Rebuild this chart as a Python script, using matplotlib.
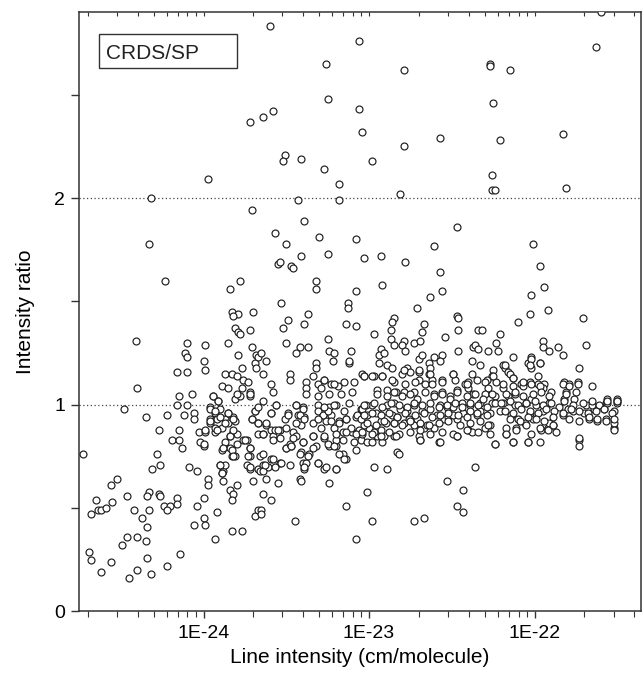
import numpy as np
import matplotlib.pyplot as plt
from matplotlib.patches import Rectangle
from matplotlib.ticker import FixedLocator, FixedFormatter, LogLocator, NullFormatter

plt.rcParams['font.family'] = ['Liberation Sans', 'DejaVu Sans']

# each point: (log10 of line intensity in cm/molecule, CRDS/SP intensity ratio)
high_outliers = [
    (-23.60, 2.83), (-23.06, 2.76), (-23.26, 2.65), (-23.25, 2.48), (-23.06, 2.43), (-23.72, 2.37),
    (-23.64, 2.39), (-23.58, 2.42), (-23.51, 2.21), (-23.52, 2.18), (-23.41, 2.19), (-23.27, 2.14),
    (-23.18, 2.07), (-23.97, 2.09), (-24.32, 2.00), (-23.43, 1.99), (-23.18, 1.99),
    (-21.60, 2.90), (-21.63, 2.73), (-22.27, 2.65), (-22.27, 2.64), (-22.15, 2.62), (-22.79, 2.62),
    (-22.25, 2.46), (-23.04, 2.32), (-22.79, 2.25), (-22.57, 2.29), (-22.21, 2.28), (-21.83, 2.31),
    (-22.98, 2.18), (-22.26, 2.11), (-22.26, 2.04), (-22.24, 2.04), (-21.81, 2.05), (-22.81, 2.02),
    (-23.71, 1.94), (-24.33, 1.78), (-24.23, 1.60), (-23.78, 1.60), (-23.84, 1.56), (-23.70, 1.45),
    (-23.83, 1.45), (-23.79, 1.44), (-23.82, 1.43),
    (-23.39, 1.89), (-23.57, 1.83), (-23.50, 1.78), (-23.30, 1.81), (-23.08, 1.80), (-23.25, 1.73),
    (-23.41, 1.72), (-23.55, 1.68), (-23.54, 1.69), (-23.47, 1.67), (-23.46, 1.66), (-23.03, 1.71),
    (-22.93, 1.72), (-22.78, 1.69), (-22.61, 1.77), (-22.57, 1.64), (-22.56, 1.55), (-23.32, 1.60),
    (-23.32, 1.56), (-23.08, 1.55), (-22.92, 1.58), (-22.63, 1.52), (-22.71, 1.47), (-23.53, 1.49),
    (-23.13, 1.49), (-23.13, 1.47), (-23.37, 1.44), (-23.49, 1.41),
    (-22.47, 1.86), (-22.01, 1.78), (-21.97, 1.67), (-21.94, 1.57), (-22.02, 1.53), (-21.92, 1.46),
    (-22.03, 1.44), (-22.10, 1.40), (-21.71, 1.42), (-22.47, 1.43), (-22.46, 1.42),
]

weak_upper = [
    (-23.81, 1.37), (-23.79, 1.35), (-23.78, 1.34), (-23.72, 1.36), (-24.41, 1.31), (-24.10, 1.30),
    (-23.99, 1.29), (-23.85, 1.30), (-23.71, 1.28), (-24.11, 1.25), (-24.10, 1.23), (-23.79, 1.24),
    (-23.68, 1.24), (-24.00, 1.21), (-23.99, 1.17), (-23.77, 1.18), (-23.69, 1.20), (-24.16, 1.16),
    (-24.10, 1.16), (-23.87, 1.15), (-23.83, 1.15), (-23.80, 1.14), (-23.76, 1.12), (-23.73, 1.11),
    (-23.89, 1.09), (-23.85, 1.08), (-23.77, 1.08), (-24.40, 1.08), (-24.15, 1.04), (-24.07, 1.05),
    (-23.94, 1.04), (-23.81, 1.03), (-23.72, 1.06), (-23.72, 1.04), (-23.78, 1.04), (-23.67, 1.23),
    (-23.68, 1.18),
]

medium_upper = [
    (-23.52, 1.37), (-23.39, 1.39), (-23.14, 1.39), (-23.08, 1.38), (-22.85, 1.42), (-22.86, 1.40),
    (-22.67, 1.39), (-22.87, 1.36), (-22.68, 1.35), (-22.97, 1.34), (-22.87, 1.32), (-22.79, 1.31),
    (-22.54, 1.33), (-23.50, 1.30), (-23.25, 1.32), (-22.85, 1.29), (-22.80, 1.29), (-22.73, 1.30),
    (-22.69, 1.31), (-23.42, 1.28), (-23.44, 1.25), (-23.37, 1.28), (-23.24, 1.26), (-23.21, 1.25),
    (-23.11, 1.26), (-22.93, 1.27), (-22.94, 1.24), (-22.91, 1.25), (-22.78, 1.26), (-23.65, 1.25),
    (-23.62, 1.21), (-23.22, 1.21), (-23.12, 1.20), (-23.12, 1.21), (-23.32, 1.20), (-23.32, 1.18),
    (-22.94, 1.20), (-22.89, 1.19), (-22.86, 1.18), (-22.70, 1.22), (-22.68, 1.24), (-22.61, 1.23),
    (-22.56, 1.24), (-22.57, 1.21), (-22.64, 1.20), (-22.63, 1.18), (-23.64, 1.15), (-23.48, 1.15),
    (-23.48, 1.12), (-23.34, 1.14), (-23.04, 1.15), (-23.03, 1.14), (-22.97, 1.14), (-22.92, 1.14),
    (-22.80, 1.15), (-22.77, 1.18), (-22.75, 1.16), (-22.70, 1.16), (-22.64, 1.15), (-22.70, 1.12),
    (-22.62, 1.12), (-22.56, 1.12), (-22.85, 1.11), (-23.38, 1.11), (-23.27, 1.12), (-23.31, 1.10),
    (-23.23, 1.10), (-23.15, 1.11), (-23.09, 1.11), (-23.59, 1.10), (-23.58, 1.06), (-23.38, 1.08),
    (-23.29, 1.08), (-23.19, 1.09), (-23.10, 1.06), (-23.38, 1.05), (-23.31, 1.04), (-23.24, 1.05),
    (-23.17, 1.05), (-22.95, 1.07), (-22.89, 1.07), (-22.84, 1.06), (-22.78, 1.10), (-22.72, 1.11),
    (-22.66, 1.10), (-22.62, 1.10), (-22.56, 1.11), (-22.61, 1.05), (-22.56, 1.06), (-22.79, 1.06),
    (-22.73, 1.06),
]

strong_upper = [
    (-22.46, 1.36), (-22.34, 1.36), (-22.32, 1.36), (-22.21, 1.34), (-22.23, 1.30), (-21.95, 1.31),
    (-21.95, 1.28), (-21.91, 1.26), (-21.86, 1.28), (-21.83, 1.24), (-21.69, 1.29), (-22.46, 1.26),
    (-22.37, 1.28), (-22.36, 1.29), (-22.34, 1.27), (-22.28, 1.26), (-22.22, 1.26), (-22.13, 1.23),
    (-22.02, 1.23), (-21.97, 1.20), (-22.04, 1.20), (-22.02, 1.18), (-22.38, 1.21), (-22.33, 1.19),
    (-22.19, 1.19), (-22.18, 1.18), (-22.16, 1.16), (-22.25, 1.17), (-22.38, 1.15), (-22.49, 1.15),
    (-22.15, 1.15), (-22.13, 1.13), (-21.98, 1.14), (-22.26, 1.14), (-22.29, 1.12), (-21.73, 1.18),
    (-21.82, 1.11), (-21.79, 1.10), (-21.74, 1.11), (-21.65, 1.09), (-22.48, 1.12), (-22.42, 1.10),
    (-22.40, 1.11), (-22.23, 1.11), (-22.30, 1.11), (-22.08, 1.10), (-22.03, 1.11), (-21.98, 1.10),
    (-21.94, 1.10), (-22.07, 1.09), (-22.40, 1.08), (-22.47, 1.07), (-22.28, 1.08), (-22.19, 1.08),
    (-21.95, 1.08), (-21.81, 1.06), (-21.90, 1.06), (-22.37, 1.05), (-22.30, 1.05), (-22.12, 1.05),
    (-21.56, 1.03), (-21.50, 1.03), (-22.51, 1.04), (-22.16, 1.04), (-22.24, 1.04), (-22.02, 1.03),
    (-21.82, 1.03), (-21.76, 1.03),
]

weak_lower = [
    (-24.48, 0.98), (-24.35, 0.94), (-24.22, 0.95), (-24.16, 1.00), (-24.10, 1.00), (-24.12, 0.95),
    (-24.06, 0.96), (-24.06, 0.93), (-24.27, 0.88), (-24.15, 0.88), (-24.19, 0.83), (-24.15, 0.83),
    (-24.13, 0.79), (-24.28, 0.76), (-24.26, 0.71), (-24.31, 0.69), (-24.09, 0.70), (-24.04, 0.68),
    (-24.73, 0.76), (-24.52, 0.64), (-24.56, 0.61), (-24.65, 0.54), (-24.68, 0.47), (-24.64, 0.49),
    (-24.62, 0.49), (-24.59, 0.50), (-24.55, 0.53), (-24.46, 0.56), (-24.33, 0.58), (-24.34, 0.56),
    (-24.27, 0.57), (-24.26, 0.56), (-24.16, 0.55), (-24.16, 0.52), (-24.24, 0.51), (-24.20, 0.51),
    (-24.22, 0.49), (-24.42, 0.49), (-24.33, 0.49), (-24.37, 0.45), (-24.34, 0.41), (-24.35, 0.34),
    (-24.46, 0.36), (-24.40, 0.36), (-24.49, 0.32), (-24.69, 0.29), (-24.68, 0.25), (-24.62, 0.19),
    (-24.56, 0.24), (-24.45, 0.16), (-24.40, 0.20), (-24.34, 0.26), (-24.32, 0.18), (-24.22, 0.22),
    (-24.14, 0.28), (-24.00, 0.55), (-24.04, 0.51), (-23.97, 0.64), (-23.97, 0.61), (-24.00, 0.45),
    (-24.06, 0.42), (-23.99, 0.42), (-23.92, 0.48), (-23.93, 0.35), (-23.83, 0.39), (-23.77, 0.39),
    (-23.88, 0.63), (-23.90, 0.71), (-23.88, 0.68), (-23.87, 0.71), (-23.89, 0.67), (-23.80, 0.61),
    (-23.84, 0.59), (-23.82, 0.57), (-23.83, 0.54), (-23.70, 0.63), (-23.69, 0.46), (-23.67, 0.49),
    (-23.72, 0.69), (-23.74, 0.71), (-23.72, 0.75), (-23.67, 0.69),
    (-24.03, 0.87), (-24.02, 0.82), (-24.00, 0.80), (-23.99, 0.87), (-23.96, 0.99), (-23.91, 1.02),
    (-23.90, 0.98), (-23.93, 0.96), (-23.96, 0.93), (-23.96, 0.91), (-23.92, 0.93), (-23.93, 0.87),
    (-23.93, 0.89), (-23.87, 0.93), (-23.85, 0.96), (-23.82, 0.94), (-23.81, 0.92), (-23.85, 0.91),
    (-23.89, 0.89), (-23.82, 0.87), (-23.84, 0.85), (-23.80, 0.86), (-23.80, 0.81), (-23.87, 0.82),
    (-23.89, 0.78), (-23.84, 0.79), (-23.83, 0.75), (-23.81, 0.75), (-23.76, 0.83), (-23.74, 0.83),
    (-23.72, 0.79), (-23.69, 0.97), (-23.71, 0.93), (-23.67, 0.91), (-23.67, 0.86),
    (-23.94, 1.04), (-23.91, 1.02), (-23.96, 0.98), (-23.93, 0.97), (-23.85, 0.96), (-23.90, 0.94),
    (-23.82, 0.93), (-23.96, 0.92), (-23.87, 0.91), (-23.92, 0.88), (-23.84, 0.85), (-23.82, 0.88),
    (-23.99, 0.88), (-24.00, 0.81), (-23.88, 0.79), (-23.83, 0.78), (-23.82, 0.75), (-23.90, 0.71),
    (-23.89, 0.67), (-23.75, 0.83), (-23.72, 0.79), (-23.73, 0.75), (-23.72, 0.70), (-23.71, 0.93),
    (-23.67, 0.91), (-23.64, 0.86), (-23.62, 0.90), (-23.59, 0.96), (-23.56, 1.00), (-23.54, 0.88),
    (-23.51, 0.93), (-23.59, 0.88), (-23.58, 0.85), (-23.50, 0.79), (-23.66, 0.75), (-23.59, 0.74),
    (-23.54, 0.72), (-23.64, 0.71), (-23.61, 0.70), (-23.66, 0.68), (-23.80, 1.05), (-23.72, 1.05),
    (-23.69, 0.97), (-23.67, 0.99), (-23.64, 1.02),
]

medium_lower = [
    (-22.53, 0.63), (-23.01, 0.58), (-23.14, 0.51), (-22.98, 0.44), (-23.08, 0.35), (-22.73, 0.44),
    (-22.67, 0.45), (-23.45, 0.44), (-23.59, 0.54), (-23.64, 0.57), (-23.65, 0.49), (-23.65, 0.47),
    (-23.55, 0.62), (-23.42, 0.64), (-23.41, 0.63), (-23.24, 0.62), (-23.20, 0.69), (-23.27, 0.69),
    (-23.39, 0.69), (-23.31, 0.72), (-22.97, 0.70), (-22.89, 0.69), (-23.14, 0.74), (-23.16, 0.76),
    (-23.08, 0.78), (-22.83, 0.77), (-22.82, 0.76), (-22.58, 0.82), (-22.69, 0.83), (-22.70, 0.85),
    (-22.85, 0.85), (-23.48, 0.71), (-23.53, 0.72), (-23.57, 0.70), (-23.62, 0.64), (-23.64, 0.68),
    (-23.63, 0.71), (-23.58, 0.74), (-23.64, 0.76), (-23.40, 0.72), (-23.38, 0.72), (-23.41, 0.77),
    (-23.36, 0.76), (-23.32, 0.80), (-23.34, 0.79), (-23.47, 0.80), (-23.50, 0.79), (-23.48, 0.81),
    (-23.40, 0.82), (-23.58, 0.83), (-23.54, 0.84), (-23.64, 0.86), (-23.57, 0.88), (-23.50, 0.89),
    (-23.46, 0.87), (-23.44, 0.85), (-23.34, 0.85), (-23.27, 0.84), (-23.24, 0.80), (-23.20, 0.80),
    (-23.20, 0.83), (-23.16, 0.83), (-23.09, 0.82), (-23.05, 0.83), (-23.01, 0.82), (-22.98, 0.82),
    (-22.92, 0.82), (-22.91, 0.85), (-22.95, 0.85), (-23.04, 0.86), (-23.10, 0.87), (-23.16, 0.87),
    (-23.21, 0.89), (-23.29, 0.89), (-23.34, 0.91), (-23.41, 0.90), (-23.44, 0.91), (-23.62, 0.91),
    (-23.55, 0.88), (-23.59, 0.96), (-23.49, 0.96), (-23.43, 0.95), (-23.39, 0.94), (-23.56, 1.00),
    (-23.44, 1.00), (-23.40, 0.99), (-23.31, 1.00), (-23.24, 0.99), (-23.28, 0.95), (-23.23, 0.95),
    (-23.26, 0.92), (-23.18, 0.92), (-23.14, 0.93), (-23.08, 0.94), (-23.15, 0.97), (-23.20, 1.00),
    (-23.05, 0.98), (-23.01, 0.95), (-22.96, 0.96), (-23.00, 0.89), (-23.03, 0.90), (-23.06, 0.88),
    (-22.97, 0.87), (-22.93, 0.92), (-22.90, 0.91), (-22.86, 0.95), (-22.85, 0.91), (-22.83, 0.94),
    (-22.79, 0.91), (-22.76, 0.93), (-22.73, 0.90), (-22.71, 0.93), (-22.67, 0.89), (-22.65, 0.90),
    (-22.61, 0.89), (-22.59, 0.95), (-22.55, 0.93), (-22.52, 0.94), (-22.53, 0.99), (-22.57, 1.00),
    (-22.63, 0.98), (-22.68, 0.97), (-22.73, 1.00), (-22.77, 0.97), (-22.81, 0.98), (-22.85, 1.01),
    (-22.89, 1.00), (-22.91, 0.97), (-22.98, 1.00), (-23.02, 1.00), (-23.12, 1.01),
    (-23.44, 1.00), (-23.40, 0.98), (-23.42, 0.95), (-23.39, 0.93), (-23.49, 0.95), (-23.31, 0.97),
    (-23.28, 0.95), (-23.25, 0.97), (-23.21, 1.00), (-23.27, 0.99), (-23.31, 0.93), (-23.23, 0.92),
    (-23.18, 0.91), (-23.14, 0.93), (-23.11, 0.89), (-23.07, 0.95), (-23.04, 0.98), (-23.05, 0.93),
    (-23.08, 0.86), (-23.14, 0.87), (-23.20, 0.86), (-23.27, 0.85), (-23.34, 0.85), (-23.40, 0.82),
    (-23.46, 0.84), (-23.47, 0.80), (-23.42, 0.76), (-23.37, 0.75), (-23.31, 0.72), (-23.20, 0.69),
    (-23.39, 0.70), (-23.26, 0.70), (-23.25, 0.81), (-23.18, 0.76), (-23.15, 0.74), (-23.21, 0.80),
    (-23.27, 1.12), (-23.21, 1.10),
]

strong_lower = [
    (-22.47, 0.85), (-22.40, 0.88), (-22.38, 0.87), (-22.36, 0.70), (-22.43, 0.59), (-22.47, 0.51),
    (-22.43, 0.48), (-22.24, 0.81), (-22.17, 0.86), (-22.13, 0.82), (-22.04, 0.82), (-21.97, 0.82),
    (-22.02, 0.86), (-21.96, 0.88), (-21.92, 0.89), (-21.87, 0.87), (-21.89, 0.90), (-21.73, 0.83),
    (-21.73, 0.80), (-21.52, 0.89), (-21.52, 0.91), (-21.57, 0.93), (-21.62, 0.92), (-21.67, 0.93),
    (-21.52, 0.97), (-21.50, 1.01), (-21.58, 0.98), (-21.64, 0.98), (-21.70, 0.96), (-21.69, 1.00),
    (-22.30, 0.89), (-22.27, 0.90), (-22.11, 0.89), (-22.06, 0.91), (-22.01, 0.93), (-21.91, 0.91),
    (-22.47, 0.93), (-22.35, 0.95), (-22.27, 0.96), (-22.21, 0.97), (-22.14, 0.95), (-22.10, 0.93),
    (-22.03, 0.96), (-21.95, 0.97), (-21.83, 0.95), (-21.77, 0.97), (-21.80, 0.98), (-21.85, 0.99),
    (-21.91, 1.01), (-21.99, 1.00), (-22.05, 1.01), (-22.12, 1.00), (-22.19, 1.01), (-22.26, 1.01),
    (-22.33, 1.01), (-22.39, 1.00), (-22.44, 1.01), (-22.49, 0.99), (-22.43, 0.96), (-22.49, 0.95),
    (-22.33, 0.97), (-22.39, 0.97), (-21.65, 1.00), (-21.57, 1.01),
]

# densest part of the cloud, 1e-23 to 4e-22
core_band = [
    (-22.95, 1.05), (-22.89, 1.04), (-22.85, 1.06), (-22.80, 1.04), (-22.75, 1.05), (-22.71, 1.03),
    (-22.66, 1.06), (-22.61, 1.04), (-22.56, 1.05), (-22.51, 1.03), (-22.47, 1.06), (-22.41, 1.04),
    (-22.36, 1.05), (-22.31, 1.03), (-22.26, 1.05),
    (-23.03, 1.00), (-22.97, 1.01), (-22.92, 0.99), (-22.87, 1.01), (-22.82, 1.00), (-22.77, 0.99),
    (-22.73, 1.01), (-22.68, 1.00), (-22.63, 1.01), (-22.58, 0.99), (-22.53, 1.00), (-22.48, 1.01),
    (-22.44, 0.99), (-22.39, 1.01), (-22.34, 1.00), (-22.29, 0.99), (-22.24, 1.01),
    (-23.03, 0.95), (-22.98, 0.96), (-22.93, 0.95), (-22.88, 0.96), (-22.83, 0.94), (-22.78, 0.96),
    (-22.72, 0.95), (-22.67, 0.96), (-22.62, 0.94), (-22.57, 0.95), (-22.52, 0.96), (-22.46, 0.95),
    (-22.41, 0.94), (-22.35, 0.96), (-22.29, 0.95),
    (-23.01, 0.91), (-22.96, 0.90), (-22.91, 0.92), (-22.85, 0.91), (-22.80, 0.90), (-22.75, 0.92),
    (-22.69, 0.91), (-22.64, 0.90), (-22.58, 0.91), (-22.52, 0.92), (-22.45, 0.90), (-22.39, 0.91),
    (-22.33, 0.92), (-22.28, 0.90),
    (-23.04, 0.87), (-22.98, 0.86), (-22.93, 0.88), (-22.88, 0.87), (-22.82, 0.86), (-22.75, 0.87),
    (-22.69, 0.88), (-22.63, 0.86), (-22.56, 0.87), (-22.49, 0.86), (-22.41, 0.88), (-22.34, 0.87),
    (-22.27, 0.86),
    (-23.03, 1.14), (-22.98, 1.14), (-22.92, 1.14), (-22.86, 1.12), (-22.79, 1.17), (-22.70, 1.17),
    (-22.63, 1.15), (-22.49, 1.15), (-22.41, 1.10), (-22.35, 1.12), (-22.25, 1.14),
    (-22.93, 0.85), (-22.84, 0.85), (-22.69, 0.83), (-22.57, 0.82), (-22.47, 0.85), (-22.24, 0.81),
    (-22.19, 1.10), (-22.13, 1.09), (-22.07, 1.11), (-22.02, 1.10), (-21.97, 1.09), (-21.83, 1.10),
    (-21.79, 1.09), (-21.74, 1.10),
    (-22.17, 1.05), (-22.12, 1.06), (-22.07, 1.04), (-22.01, 1.05), (-21.96, 1.06), (-21.91, 1.04),
    (-21.81, 1.05), (-21.75, 1.06),
    (-22.20, 1.01), (-22.15, 1.02), (-22.10, 1.00), (-22.05, 1.01), (-22.00, 1.02), (-21.95, 1.00),
    (-21.90, 1.01), (-21.82, 1.02), (-21.77, 1.00), (-21.71, 1.01), (-21.65, 1.02), (-21.61, 1.00),
    (-21.56, 1.01), (-21.50, 1.02),
    (-22.18, 0.97), (-22.13, 0.96), (-22.08, 0.98), (-22.03, 0.97), (-21.98, 0.96), (-21.93, 0.98),
    (-21.88, 0.97), (-21.83, 0.96), (-21.78, 0.98), (-21.73, 0.97), (-21.68, 0.96), (-21.63, 0.97),
    (-21.58, 0.98), (-21.53, 0.96),
    (-22.15, 0.93), (-22.09, 0.92), (-22.04, 0.94), (-21.99, 0.93), (-21.94, 0.92), (-21.89, 0.94),
    (-21.79, 0.93), (-21.73, 0.92), (-21.67, 0.94), (-21.62, 0.93), (-21.57, 0.92), (-21.52, 0.93),
    (-22.17, 0.89), (-22.11, 0.88), (-22.05, 0.90), (-21.97, 0.89), (-21.92, 0.88), (-21.89, 0.90),
    (-21.52, 0.88),
    (-22.17, 0.86), (-22.13, 0.82), (-22.04, 0.82), (-21.73, 0.84), (-22.02, 1.22), (-21.97, 1.20),
    (-22.03, 1.19), (-22.18, 1.19), (-22.13, 1.13), (-21.50, 1.02), (-21.56, 1.02),
]

groups = [high_outliers, weak_upper, medium_upper, strong_upper,
          weak_lower, medium_lower, strong_lower, core_band]
points = np.array([p for g in groups for p in g])
line_intensity = 10.0 ** points[:, 0]
intensity_ratio = points[:, 1]

major_x = [1e-24, 1e-23, 1e-22]
major_x_labels = ['1E-24', '1E-23', '1E-22']

fig = plt.figure(figsize=(6.43, 6.82), dpi=100)
ax = fig.add_axes([0.1229, 0.1034, 0.8741, 0.879])

ax.axhline(1.0, color='#444444', lw=0.9, ls=(0, (1, 2)), zorder=1)
ax.axhline(2.0, color='#444444', lw=0.9, ls=(0, (1, 2)), zorder=1)

ax.scatter(line_intensity, intensity_ratio, s=25, facecolor='white',
           edgecolor='#1e1e1e', linewidth=0.85, zorder=3)

ax.set_xscale('log')
ax.set_xlim(1.77e-25, 4.4e-22)
ax.set_ylim(0, 2.9)

ax.xaxis.set_major_locator(FixedLocator(major_x))
ax.xaxis.set_major_formatter(FixedFormatter(major_x_labels))
ax.xaxis.set_minor_locator(LogLocator(base=10, subs=np.arange(2, 10)))
ax.xaxis.set_minor_formatter(NullFormatter())
ax.set_yticks([0, 1, 2])
ax.set_yticks([0.5, 1.5, 2.5], minor=True)

ax.tick_params(axis='x', which='both', direction='out', bottom=True, top=False,
               labelsize=14, color='#333333', pad=5)
ax.tick_params(axis='x', which='major', length=5, width=1)
ax.tick_params(axis='x', which='minor', length=4, width=0.8)
ax.tick_params(axis='y', which='both', direction='out', length=6, width=1,
               labelsize=14, color='#333333', pad=4)

# inward ticks along the top edge
top = ax.secondary_xaxis('top')
top.xaxis.set_major_locator(FixedLocator(major_x))
top.xaxis.set_minor_locator(LogLocator(base=10, subs=np.arange(2, 10)))
top.xaxis.set_major_formatter(NullFormatter())
top.xaxis.set_minor_formatter(NullFormatter())
top.tick_params(which='both', direction='in', length=3, width=0.8, color='#333333')

for side in ['left', 'right', 'top', 'bottom']:
    ax.spines[side].set_linewidth(1.1)
    ax.spines[side].set_color('#333333')
top.spines['top'].set_visible(False)

ax.set_xlabel('Line intensity (cm/molecule)', fontsize=15, labelpad=4)
ax.set_ylabel('Intensity ratio', fontsize=15, labelpad=14)

ax.add_patch(Rectangle((0.0356, 0.906), 0.246, 0.057, transform=ax.transAxes,
                       facecolor='white', edgecolor='#333333', lw=1.0, zorder=4))
ax.text(0.048, 0.931, 'CRDS/SP', transform=ax.transAxes, fontsize=15,
        va='center', ha='left', color='#222222', zorder=5)

fig.savefig('out.png', dpi=100)
